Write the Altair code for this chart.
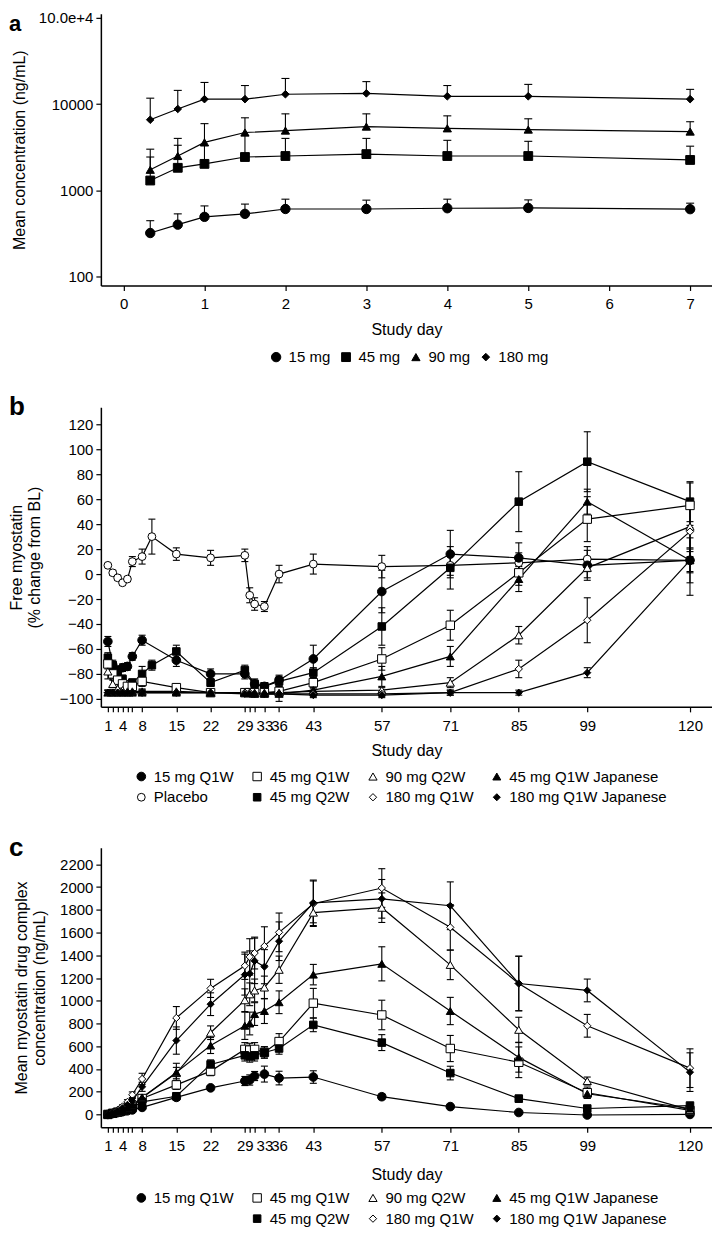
import altair as alt
import pandas as pd

FONT = "Liberation Sans"

# ---------------- Panel a data ----------------
a_days = [0.33, 0.67, 1, 1.5, 2, 3, 4, 5, 7]
a_15_mean = [320, 400, 493, 534, 608, 608, 620, 625, 605]
a_15_upper = [445, 534, 660, 693, 790, 770, 790, 775, 710]
a_45_mean = [1300, 1825, 2027, 2434, 2500, 2630, 2500, 2500, 2250]
a_45_upper = [2434, 3330, 3300, 4300, 4000, 4000, 3800, 3700, 3250]
a_90_mean = [1730, 2500, 3600, 4680, 4930, 5480, 5230, 5060, 4800]
a_90_upper = [3000, 4000, 5930, 6930, 7700, 7700, 7300, 6750, 6240]
a_180_mean = [6580, 8770, 11400, 11400, 13000, 13300, 12300, 12300, 11400]
a_180_upper = [11700, 14400, 17800, 16400, 19800, 18200, 16400, 16900, 14800]
a_groups = ["15 mg", "45 mg", "90 mg", "180 mg"]
a_shapes = ["circle", "square", "triangle-up", "diamond"]
a_fills = ["black", "black", "black", "black"]
a_strokes = ["black", "black", "black", "black"]
a_sizes = [88, 58, 100, 115]
a_x_ticks = [0, 1, 2, 3, 4, 5, 6, 7]
a_y_ticks = [100, 1000, 10000, 100000]

# ---------------- Panel b data ----------------
b_days = [1, 2, 3, 4, 5, 6, 8, 15, 22, 29, 30, 31, 33, 36, 43, 57, 71, 85, 99, 120]
b_placebo_days = [1, 2, 3, 4, 5, 6, 8, 10, 15, 22, 29, 30, 31, 33, 36, 43, 57, 71, 85, 99, 120]
b_placebo = [7, 1, -3, -7, -4, 10, 14, 30, 16, 13, 15, -17, -24, -26, 0, 8, 6, 7, 9, 12, 11]
b_placebo_err = [1, 2, 2, 2, 2, 4, 6, 14, 5, 6, 5, 6, 5, 4, 7, 8, 9, 8, 8, 10, 9]
b_15_days = [1, 2, 3, 4, 5, 6, 8, 15, 22, 29, 31, 33, 36, 43, 57, 71, 85, 99, 120]
b_15 = [-54, -73, -77, -75, -74, -66, -53, -69, -80, -80, -88, -90, -85, -68, -14, 16, 13, 7, 11]
b_15_err = [4, 4, 3, 3, 3, 3, 4, 5, 4, 4, 4, 3, 4, 11, 17, 19, 12, 12, 10]
b_45q2w_days = [1, 2, 3, 4, 6, 8, 10, 15, 22, 29, 31, 33, 36, 43, 57, 71, 85, 99, 120]
b_45q2w = [-67, -73, -80, -84, -87, -80, -73, -62, -87, -77, -88, -90, -86, -79, -42, 5, 58, 90, 58]
b_45q2w_err = [4, 3, 3, 3, 3, 6, 4, 5, 3, 4, 3, 3, 4, 4, 15, 17, 24, 24, 16]
b_45q1w = [-72, -80, -85, -88, -90, -90, -86, -91, -95, -95, -95, -95, -95, -94, -87, -68, -41, 1, 44, 55]
b_45q1w_err = [4, 4, 3, 3, 3, 3, 4, 3, 2, 2, 2, 2, 2, 2, 4, 9, 12, 10, 18, 18]
b_90q2w = [-78, -88, -92, -93, -94, -94, -94, -94, -95, -95, -95, -95, -95, -95, -94, -93, -87, -49, 5, 38]
b_90q2w_err = [6, 3, 2, 2, 2, 2, 2, 2, 2, 2, 2, 2, 2, 2, 2, 2, 4, 7, 8, 20]
b_45j = [-95, -95, -95, -95, -95, -95, -95, -95, -95, -95, -95, -96, -96, -96, -93, -82, -66, -4, 58, 11]
b_45j_err = [2, 2, 2, 2, 2, 2, 2, 2, 2, 2, 2, 2, 2, 2, 3, 8, 8, 10, 10, 18]
b_180q1w = [-95, -95, -95, -95, -95, -95, -95, -95, -95, -95, -95, -96, -96, -96, -96, -96, -95, -76, -37, 34]
b_180q1w_err = [2, 2, 2, 2, 2, 2, 2, 2, 2, 2, 2, 2, 2, 2, 2, 2, 2, 7, 18, 20]
b_180j = [-95, -95, -95, -95, -95, -95, -95, -95, -95, -96, -96, -96, -96, -96, -97, -97, -95, -95, -79, 11]
b_180j_err = [2, 2, 2, 2, 2, 2, 2, 2, 2, 2, 2, 2, 2, 6, 2, 2, 2, 2, 4, 28]
b_order = ["15 mg Q1W", "45 mg Q1W", "90 mg Q2W", "45 mg Q1W Japanese",
           "Placebo", "45 mg Q2W", "180 mg Q1W", "180 mg Q1W Japanese"]
b_shapes = ["circle", "square", "triangle-up", "triangle-up", "circle", "square", "diamond", "diamond"]
b_fills = ["black", "white", "white", "black", "white", "black", "white", "black"]
b_strokes = ["black", "black", "black", "black", "black", "black", "black", "black"]
b_sizes = [75, 50, 90, 90, 80, 30, 100, 100]
b_y_ticks = [-100, -80, -60, -40, -20, 0, 20, 40, 60, 80, 100, 120]

# ---------------- Panel c data ----------------
c_days = [1, 2, 3, 4, 5, 6, 8, 15, 22, 29, 30, 31, 33, 36, 43, 57, 71, 85, 99, 120]
c_15 = [0, 8, 16, 24, 32, 40, 62, 150, 234, 294, 303, 338, 355, 320, 329, 156, 69, 17, -5, 0]
c_15_err = [3, 4, 5, 6, 8, 10, 12, 25, 20, 40, 45, 40, 70, 60, 55, 25, 15, 10, 8, 5]
c_45q1w = [0, 10, 20, 35, 50, 70, 140, 260, 381, 572, 566, 572, 546, 641, 979, 875, 580, 459, 191, 35]
c_45q1w_err = [3, 5, 6, 8, 10, 12, 20, 40, 40, 60, 60, 60, 50, 70, 130, 130, 115, 135, 50, 20]
c_45q2w = [0, 10, 20, 30, 45, 60, 110, 160, 440, 520, 510, 520, 545, 580, 788, 632, 364, 139, 52, 78]
c_45q2w_err = [3, 5, 6, 8, 10, 12, 18, 30, 40, 50, 50, 50, 50, 50, 60, 70, 60, 30, 20, 15]
c_90q2w = [0, 12, 25, 40, 60, 80, 147, 364, 719, 1005, 1057, 1091, 1117, 1273, 1776, 1819, 1316, 745, 294, 40]
c_90q2w_err = [3, 5, 8, 10, 12, 15, 25, 50, 60, 100, 100, 100, 100, 120, 90, 130, 130, 110, 35, 20]
c_45j = [0, 12, 25, 40, 60, 80, 150, 370, 606, 780, 800, 883, 910, 987, 1230, 1325, 910, 502, 182, 52]
c_45j_err = [3, 5, 8, 10, 12, 15, 25, 80, 70, 120, 100, 100, 110, 100, 90, 150, 120, 130, 40, 20]
c_180q1w = [0, 20, 40, 70, 110, 173, 312, 849, 1109, 1308, 1386, 1420, 1481, 1602, 1854, 1992, 1646, 1152, 780, 407]
c_180q1w_err = [5, 8, 10, 15, 20, 25, 50, 100, 80, 120, 160, 140, 170, 170, 200, 170, 200, 240, 100, 170]
c_180j = [0, 15, 30, 55, 85, 120, 243, 650, 970, 1230, 1239, 1351, 1300, 1524, 1862, 1897, 1836, 1152, 1091, 372]
c_180j_err = [5, 8, 10, 12, 15, 20, 40, 120, 100, 180, 200, 200, 150, 170, 200, 170, 210, 240, 100, 170]
c_order = ["15 mg Q1W", "45 mg Q1W", "90 mg Q2W", "45 mg Q1W Japanese",
           " ", "45 mg Q2W", "180 mg Q1W", "180 mg Q1W Japanese"]
c_shapes = ["circle", "square", "triangle-up", "triangle-up", "circle", "square", "diamond", "diamond"]
c_fills = ["black", "white", "white", "black", "transparent", "black", "white", "black"]
c_strokes = ["black", "black", "black", "black", "transparent", "black", "black", "black"]
c_sizes = [75, 50, 90, 90, 1, 30, 100, 100]
c_y_ticks = [0, 200, 400, 600, 800, 1000, 1200, 1400, 1600, 1800, 2000, 2200]

bc_x_ticks = [1, 2, 3, 4, 5, 6, 8, 15, 22, 29, 30, 31, 33, 36, 43, 57, 71, 85, 99, 120]
bc_x_labels = [1, 4, 8, 15, 22, 29, 33, 36, 43, 57, 71, 85, 99, 120]


def rows_from(group, days, means, lows, highs):
    return [{"group": group, "day": d, "mean": m, "lo": lo, "hi": hi}
            for d, m, lo, hi in zip(days, means, lows, highs)]


rows_a = []
for g, m, u in zip(a_groups, [a_15_mean, a_45_mean, a_90_mean, a_180_mean],
                   [a_15_upper, a_45_upper, a_90_upper, a_180_upper]):
    rows_a += rows_from(g, a_days, m, m, u)
df_a = pd.DataFrame(rows_a)

rows_b = []
for g, days, m, e in [
    ("Placebo", b_placebo_days, b_placebo, b_placebo_err),
    ("15 mg Q1W", b_15_days, b_15, b_15_err),
    ("45 mg Q2W", b_45q2w_days, b_45q2w, b_45q2w_err),
    ("45 mg Q1W", b_days, b_45q1w, b_45q1w_err),
    ("90 mg Q2W", b_days, b_90q2w, b_90q2w_err),
    ("45 mg Q1W Japanese", b_days, b_45j, b_45j_err),
    ("180 mg Q1W", b_days, b_180q1w, b_180q1w_err),
    ("180 mg Q1W Japanese", b_days, b_180j, b_180j_err),
]:
    rows_b += rows_from(g, days, m, [v - x for v, x in zip(m, e)], [v + x for v, x in zip(m, e)])
df_b = pd.DataFrame(rows_b)

rows_c = []
for g, m, e in [
    ("15 mg Q1W", c_15, c_15_err),
    ("45 mg Q1W", c_45q1w, c_45q1w_err),
    ("45 mg Q2W", c_45q2w, c_45q2w_err),
    ("90 mg Q2W", c_90q2w, c_90q2w_err),
    ("45 mg Q1W Japanese", c_45j, c_45j_err),
    ("180 mg Q1W", c_180q1w, c_180q1w_err),
    ("180 mg Q1W Japanese", c_180j, c_180j_err),
]:
    rows_c += rows_from(g, c_days, m, [v - x for v, x in zip(m, e)], [v + x for v, x in zip(m, e)])
df_c = pd.DataFrame(rows_c)


def panel(df, letter, letter_y, letter_size, order, shapes, fills, strokes, sizes,
          xscale, xaxis, yscale, yaxis, legend, width, height, lower_caps, cap=4):
    base = alt.Chart(df)
    X = alt.X("day:Q", scale=xscale, axis=xaxis)
    Y = alt.Y("mean:Q", scale=yscale, axis=yaxis)
    lines = base.mark_line(color="black", strokeWidth=1.2).encode(x=X, y=Y, detail="group:N")
    bars = base.mark_rule(color="black", strokeWidth=1.1).encode(
        x=X, y=alt.Y("lo:Q", scale=yscale, axis=yaxis), y2="hi:Q")
    caps_hi = base.mark_rule(color="black", strokeWidth=1.1, xOffset=-cap, x2Offset=cap).encode(
        x=X, x2="day:Q", y=alt.Y("hi:Q", scale=yscale, axis=yaxis))
    layers = [lines, bars, caps_hi]
    if lower_caps:
        caps_lo = base.mark_rule(color="black", strokeWidth=1.1, xOffset=-cap, x2Offset=cap).encode(
            x=X, x2="day:Q", y=alt.Y("lo:Q", scale=yscale, axis=yaxis))
        layers.append(caps_lo)
    pts = base.mark_point(filled=True, opacity=1, strokeWidth=1).encode(
        x=X, y=Y,
        shape=alt.Shape("group:N", scale=alt.Scale(domain=order, range=shapes), legend=legend),
        fill=alt.Fill("group:N", scale=alt.Scale(domain=order, range=fills), legend=legend),
        stroke=alt.Stroke("group:N", scale=alt.Scale(domain=order, range=strokes), legend=legend),
        size=alt.Size("group:N", scale=alt.Scale(domain=order, range=sizes), legend=legend),
    )
    layers.append(pts)
    lab = alt.Chart(pd.DataFrame({"t": [letter]})).mark_text(
        align="left", baseline="alphabetic", fontSize=letter_size, fontWeight="bold", font=FONT,
        color="black"
    ).encode(text="t:N", x=alt.value(-92), y=alt.value(letter_y))
    layers.append(lab)
    return alt.layer(*layers).properties(width=width, height=height)


def legend_for(x, y, col_pad, row_pad):
    return alt.Legend(title=None, orient="none", legendX=x, legendY=y, direction="horizontal",
                      columns=4, labelFontSize=15, labelFont=FONT, labelColor="black",
                      columnPadding=col_pad, rowPadding=row_pad, labelOffset=5,
                      symbolStrokeWidth=1, symbolOpacity=1)


label_expr_bc = "indexof(" + str(bc_x_labels) + ", datum.value) >= 0 ? datum.label : ''"
W = 612

pa = panel(
    df_a, "a", 17, 22, a_groups, a_shapes, a_fills, a_strokes, a_sizes,
    alt.Scale(domain=[-0.28, 7.27], nice=False, zero=False),
    alt.Axis(values=a_x_ticks, title="Study day", labelFlush=False, labelPadding=6, titlePadding=10),
    alt.Scale(type="log", domain=[79, 111000], nice=False),
    alt.Axis(values=a_y_ticks, title="Mean concentration (ng/mL)", titlePadding=11,
             labelExpr="datum.value >= 100000 ? '10.0e+4' : format(datum.value, 'd')"),
    legend_for(168, 336, 8, 4), W, 272, lower_caps=False,
)

pb = panel(
    df_b, "b", 8, 26, b_order, b_shapes, b_fills, b_strokes, b_sizes,
    alt.Scale(domain=[-0.43, 124.5], nice=False, zero=False),
    alt.Axis(values=bc_x_ticks, title="Study day", labelFlush=False, labelOverlap=False,
             labelExpr=label_expr_bc, labelPadding=7, titlePadding=9),
    alt.Scale(domain=[-106.4, 133.6], nice=False, zero=False),
    alt.Axis(values=b_y_ticks, title=["Free  myostatin", "(% change from BL)"], titlePadding=17),
    legend_for(33, 362, 15, 5), W, 300, lower_caps=True, cap=3.5,
)

pc = panel(
    df_c, "c", 8, 26, c_order, c_shapes, c_fills, c_strokes, c_sizes,
    alt.Scale(domain=[-0.43, 124.5], nice=False, zero=False),
    alt.Axis(values=bc_x_ticks, title="Study day", labelFlush=False, labelOverlap=False,
             labelExpr=label_expr_bc, labelPadding=6, titlePadding=13),
    alt.Scale(domain=[-113, 2347], nice=False, zero=False),
    alt.Axis(values=c_y_ticks, format="d", title=["Mean myostatin drug complex", "concentration (ng/mL)"],
             titlePadding=12),
    legend_for(33, 343, 15, 5), W, 280, lower_caps=True, cap=3.5,
)

chart = alt.vconcat(pa, pb, pc, spacing=29).resolve_scale(
    shape="independent", fill="independent", stroke="independent", size="independent"
).properties(
    padding={"left": 0, "top": 1, "right": 0, "bottom": 0}
).configure(
    font=FONT
).configure_view(
    stroke=None
).configure_axis(
    grid=False, domainColor="black", tickColor="black", labelColor="black", titleColor="black",
    domainWidth=1.5, tickWidth=1.2, tickSize=5, labelFontSize=15, titleFontSize=16,
    titleFontWeight="normal", labelFont=FONT, titleFont=FONT, labelPadding=3,
)

chart.save("out.html", embed_options={"renderer": "svg", "actions": False})
